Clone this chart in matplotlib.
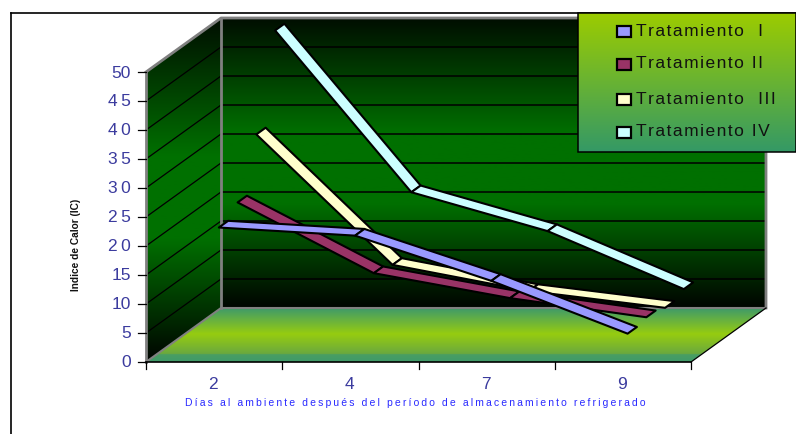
import numpy as np
import matplotlib
matplotlib.use('Agg')
import matplotlib.pyplot as plt
from matplotlib.colors import LinearSegmentedColormap
from matplotlib.patches import Polygon, Rectangle

plt.rcParams['font.family'] = ['Liberation Sans', 'DejaVu Sans']

# Data
categories = ['2', '4', '7', '9']
series_names = ['Tratamiento  I', 'Tratamiento II', 'Tratamiento  III', 'Tratamiento IV']
tratamiento_1 = [22.6, 21.2, 13.4, 4.3]
tratamiento_2 = [24.6, 12.4, 8.1, 4.8]
tratamiento_3 = [34.0, 11.5, 7.0, 4.1]
tratamiento_4 = [49.6, 21.7, 15.0, 5.0]
series_colors = ['#9999ff', '#993366', '#ffffcc', '#ccffff']
y_ticks = [0, 5, 10, 15, 20, 25, 30, 35, 40, 45, 50]
spaced_ticks = [20, 25, 30, 35, 40, 45]

# 3D box layout in pixels
X0, X1 = 146, 691
Y0, Y50 = 363, 73
DX, DY = 75, -54
WALL_TOP = Y50 + DY
HAIR = '\u200a'
THIN = '\u2009'


def project(cat, val, depth):
    x = X0 + (X1 - X0) * (cat + 0.5) / len(categories) + DX * depth
    y = Y0 + (Y50 - Y0) * val / 50 + DY * depth
    return x, y


def fill_gradient(ax, verts, stops, top, bottom, zorder=1):
    cmap = LinearSegmentedColormap.from_list('g', stops)
    grad = np.linspace(0, 1, 256).reshape(-1, 1)
    im = ax.imshow(grad, cmap=cmap, extent=(0, 796, bottom, top), aspect='auto', zorder=zorder)
    poly = Polygon(verts, closed=True, fc='none', ec='none', transform=ax.transData)
    ax.add_patch(poly)
    im.set_clip_path(poly)


fig = plt.figure(figsize=(7.96, 4.35), dpi=100)
ax = fig.add_axes([0, 0, 1, 1])
ax.set_xlim(0, 796)
ax.set_ylim(435, 0)
ax.axis('off')

# chart frame
ax.plot([11, 796], [14, 14], color='black', lw=1.2, zorder=1)
ax.plot([11, 11], [14, 435], color='black', lw=1.2, zorder=1)

wall_stops = [(0, '#000e00'), (0.4, '#007000'), (0.64, '#007000'), (1, '#000400')]
floor_stops = [(0, '#3f9a6a'), (0.48, '#96cc10'), (0.85, '#6aa83f'), (0.86, '#4a9e62'), (1, '#3f9a6a')]
legend_stops = [(0, '#9ccc00'), (1, '#349966')]

# back wall, side wall, floor
back = [(X0 + DX, WALL_TOP), (X1 + DX, WALL_TOP), (X1 + DX, Y0 + DY), (X0 + DX, Y0 + DY)]
side = [(X0, Y50), (X0 + DX, WALL_TOP), (X0 + DX, Y0 + DY), (X0, Y0)]
floor = [(X0, Y0), (X1, Y0), (X1 + DX, Y0 + DY), (X0 + DX, Y0 + DY)]
fill_gradient(ax, back, wall_stops, WALL_TOP, Y0 + DY)
fill_gradient(ax, side, wall_stops, WALL_TOP, Y0)
fill_gradient(ax, floor, floor_stops, Y0 + DY, Y0)

# gridlines on the walls
for v in y_ticks[1:-1]:
    y = Y0 + (Y50 - Y0) * v / 50
    ax.plot([X0, X0 + DX], [y, y + DY], color='black', lw=0.9, zorder=2)
    ax.plot([X0 + DX, X1 + DX], [y + DY, y + DY], color='black', lw=1.1, zorder=2)

# wall edges
ax.plot([X0, X0 + DX, X1 + DX, X1 + DX], [Y50, WALL_TOP, WALL_TOP, Y0 + DY], color='#808080', lw=2, zorder=3)
ax.plot([X0 + DX, X0 + DX], [WALL_TOP, Y0 + DY], color='#808080', lw=2, zorder=3)
ax.plot([X0, X0], [Y50, Y0], color='#808080', lw=2, zorder=3)
ax.plot([X0, X0 + DX, X1 + DX], [Y0, Y0 + DY, Y0 + DY], color='#808080', lw=1.5, zorder=3)
ax.plot([X1, X1 + DX], [Y0, Y0 + DY], color='black', lw=0.9, zorder=3)

# front axis and ticks
ax.plot([X0, X1], [Y0, Y0], color='black', lw=1.2, zorder=4)
for i in range(len(categories) + 1):
    x = X0 + (X1 - X0) * i / len(categories)
    ax.plot([x, x], [Y0, Y0 + 7], color='black', lw=0.9, zorder=4)
for v in y_ticks:
    y = Y0 + (Y50 - Y0) * v / 50
    ax.plot([X0 - 8, X0], [y, y], color='black', lw=0.9, zorder=4)
    label = THIN.join(str(v)) if v in spaced_ticks else str(v)
    ax.text(X0 - 15, y, label, ha='right', va='center', fontsize=12.5, color='#3b3b9e', zorder=4)
for i, c in enumerate(categories):
    ax.text(X0 + (X1 - X0) * (i + 0.5) / len(categories) - 1, 385, c, ha='center', va='center',
            fontsize=12.5, color='#3b3b9e', zorder=4)

# ribbons, back to front
all_series = [tratamiento_1, tratamiento_2, tratamiento_3, tratamiento_4]
half = 0.062
for s in range(3, -1, -1):
    depth = (s + 0.5) / 4
    vals = all_series[s]
    for i in range(len(vals) - 1):
        a1 = project(i, vals[i], depth - half)
        a2 = project(i, vals[i], depth + half)
        b1 = project(i + 1, vals[i + 1], depth - half)
        b2 = project(i + 1, vals[i + 1], depth + half)
        ax.add_patch(Polygon([a1, a2, b2, b1], closed=True, fc=series_colors[s], ec='black',
                             lw=1.5, joinstyle='round', zorder=5 + (3 - s)))

# legend box
lx0, ly0, lx1, ly1 = 578, 14, 796, 153
fill_gradient(ax, [(lx0, ly0), (lx1, ly0), (lx1, ly1), (lx0, ly1)], legend_stops, ly0, ly1, zorder=10)
ax.add_patch(Rectangle((lx0, ly0), lx1 - lx0, ly1 - ly0, fc='none', ec='black', lw=1.1, zorder=11))
legend_y = [32.5, 65.5, 100.5, 133.5]
for name, col, y in zip(series_names, series_colors, legend_y):
    ax.add_patch(Rectangle((617, y - 5.5), 14, 11, fc=col, ec='black', lw=1.6, zorder=12))
    ax.text(636, y - 1.5, HAIR.join(name), ha='left', va='center', fontsize=12.5, color='#111111', zorder=12)

# axis titles
ax.text(76, 245, 'Indice de Calor (IC)', rotation=90, ha='center', va='center', fontsize=7.3,
        fontweight='bold', color='#111111', zorder=4)
ax.text(415, 403, THIN.join('Días al ambiente después del período de almacenamiento refrigerado'),
        ha='center', va='center', fontsize=7.5, color='#2a2aff', zorder=4)

fig.savefig('out.png', dpi=100)
